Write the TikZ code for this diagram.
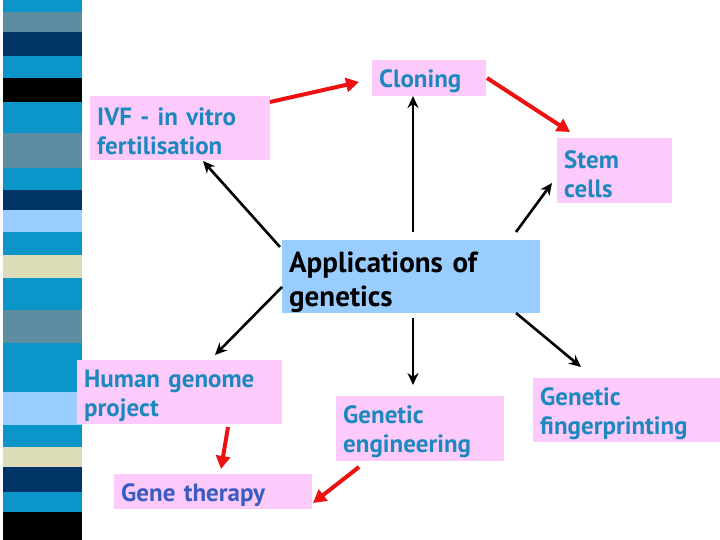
\documentclass[tikz,border=0pt]{standalone}
\usepackage{fontspec}
\setmainfont{PT Sans}
\usetikzlibrary{arrows.meta}
\definecolor{cy}{HTML}{0A96C8}
\definecolor{st}{HTML}{5E8CA0}
\definecolor{nv}{HTML}{003366}
\definecolor{lb}{HTML}{99CCFF}
\definecolor{cr}{HTML}{DCDDB8}
\definecolor{pinkbox}{HTML}{FCCBFC}
\definecolor{centerbox}{HTML}{99CCFF}
\definecolor{tealtext}{HTML}{1E88BE}
\definecolor{indtext}{HTML}{3A5BC0}
\definecolor{redarr}{HTML}{EE1111}
\tikzset{
  box/.style={fill=pinkbox, anchor=north west, align=left, inner xsep=7pt, inner ysep=0pt,
    text=tealtext, font=\bfseries\fontsize{25}{29}\selectfont,
    execute at begin node={\rule{0pt}{24pt}}},
  redar/.style={draw=redarr, line width=4pt, -{Triangle[length=13pt,width=14pt]}},
  blkar/.style={draw=black, line width=2.6pt, -{Stealth[length=12pt,width=11pt]}},
}
\begin{document}
\begin{tikzpicture}[x=1pt,y=-1pt]
\useasboundingbox (0,0) rectangle (720,540);
\fill[white] (0,0) rectangle (720,540);
% left stripes
\foreach \a/\b/\c in {0/12/cy,12/32/st,32/56/nv,56/78/cy,78/102/black,102/133/cy,133/168/st,168/190/cy,190/210/nv,210/232/lb,232/255/cy,255/278/cr,278/310/cy,310/343/st,343/392/cy,392/425/lb,425/447/cy,447/467/cr,467/492/nv,492/512/cy,512/540/black}
  \fill[\c] (3,\a) rectangle (82,\b);
% boxes
\node[box, minimum height=36pt, text width=100pt] (clon) at (372,60) {Cloning};
\node[box, minimum height=64pt, text width=166pt] (ivf) at (90,96) {IVF - in vitro\\fertilisation};
\node[box, minimum height=65pt, text width=101pt] (stem) at (557,138) {Stem\\cells};
\node[box, fill=centerbox, text=black, minimum height=73pt, text width=244pt, font=\bfseries\fontsize{29}{34}\selectfont, execute at begin node={\rule{0pt}{32pt}}] (app) at (282,240) {Applications of\\genetics};
\node[box, minimum height=64pt, text width=191pt] (hgp) at (77,360) {Human genome\\project};
\node[box, minimum height=65pt, text width=154pt] (geng) at (336,396) {Genetic\\engineering};
\node[box, minimum height=64pt, text width=173pt] (gfp) at (533,378) {Genetic\\fingerprinting};
\node[box, text=indtext, minimum height=35pt, text width=184pt] (gth) at (114,474) {Gene therapy};
% arrow end points
\coordinate (a1) at (270,102); \coordinate (b1) at (359,82);
\coordinate (a2) at (487,78); \coordinate (b2) at (570,132);
\coordinate (a3) at (413,232); \coordinate (b3) at (413,96);
\coordinate (a4) at (280,247); \coordinate (b4) at (203,161);
\coordinate (a5) at (516,232); \coordinate (b5) at (552,183);
\coordinate (a6) at (282,287); \coordinate (b6) at (215,355);
\coordinate (a7) at (413,318); \coordinate (b7) at (413,385);
\coordinate (a8) at (516,313); \coordinate (b8) at (581,367);
\coordinate (a9) at (228,427); \coordinate (b9) at (221,469);
\coordinate (a10) at (359,467); \coordinate (b10) at (313,503);
\draw[redar] (a1) -- (b1);
\draw[redar] (a2) -- (b2);
\draw[redar] (a9) -- (b9);
\draw[redar] (a10) -- (b10);
\draw[blkar] (a3) -- (b3);
\draw[blkar] (a4) -- (b4);
\draw[blkar] (a5) -- (b5);
\draw[blkar] (a6) -- (b6);
\draw[blkar] (a7) -- (b7);
\draw[blkar] (a8) -- (b8);
\end{tikzpicture}
\end{document}
